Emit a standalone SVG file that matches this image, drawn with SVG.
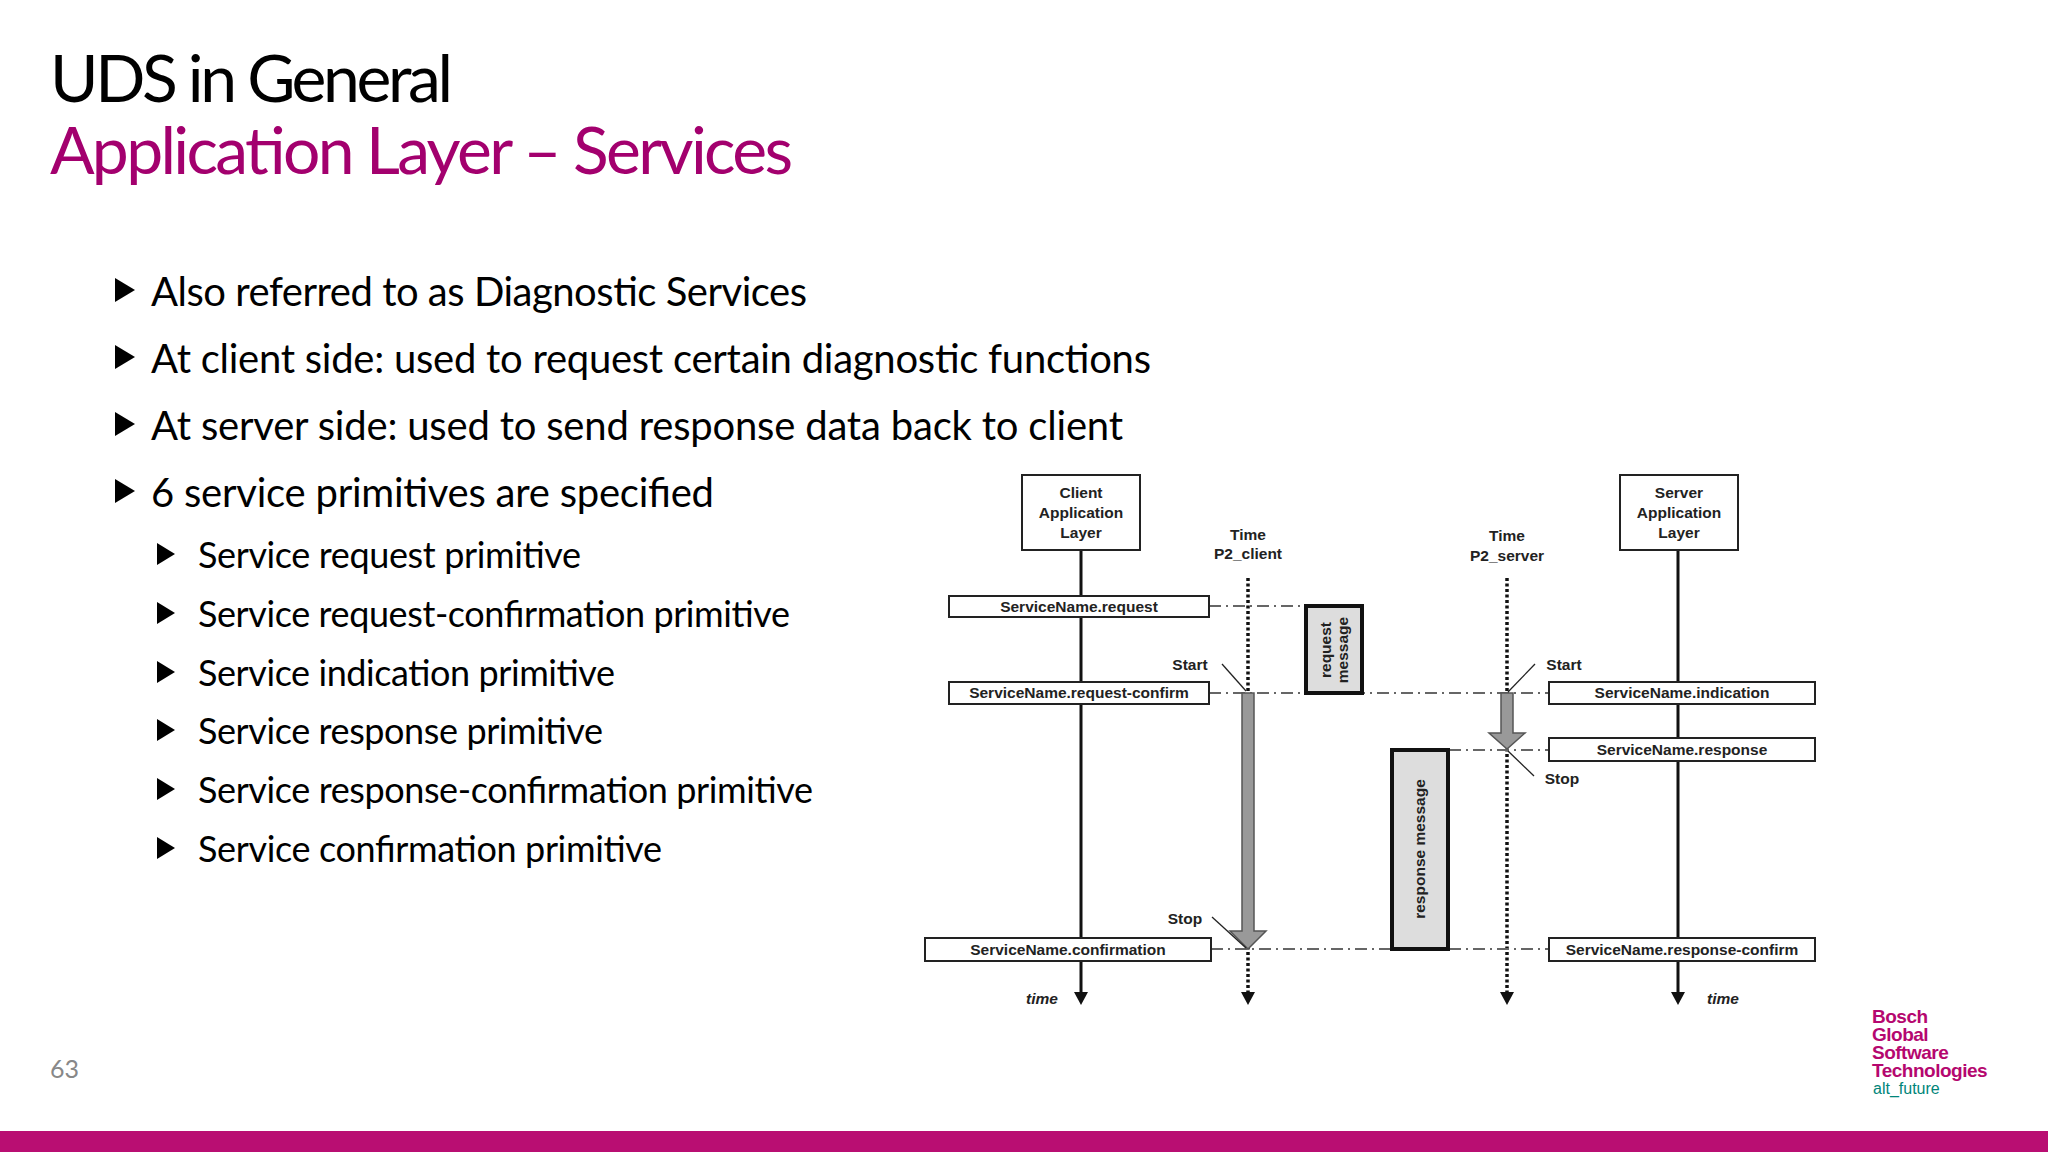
<svg xmlns="http://www.w3.org/2000/svg" width="2048" height="1152" viewBox="0 0 2048 1152">
<style>
.t1{font-family:Lato,"Open Sans",sans-serif;font-size:40px;fill:#000}
.t2{font-family:Lato,"Open Sans",sans-serif;font-size:36px;fill:#000}
.d{font-family:"Liberation Sans",Arial,sans-serif;font-weight:bold;font-size:15.5px;fill:#222;text-anchor:middle}
.box{fill:#fff;stroke:#222;stroke-width:2}
.life{stroke:#111;stroke-width:3;fill:none}
.dot{stroke:#111;stroke-width:3.5;stroke-dasharray:3 2.5;fill:none}
.dd{stroke:#666;stroke-width:1.8;stroke-dasharray:12 5 2 5;fill:none}
.thin{stroke:#222;stroke-width:1.3}
.msg{fill:#ddd;stroke:#111;stroke-width:4}
.garrow{fill:#999;stroke:#555;stroke-width:1.5}
.logo{font-family:"Liberation Sans",Arial,sans-serif;font-weight:bold;font-size:19px;fill:#b5076f;letter-spacing:-0.5px}
</style>
<defs>
<polygon id="tri1" points="0,0 20,12 0,24"/>
<polygon id="tri2" points="0,0 18,11 0,22"/>
</defs>
<rect width="2048" height="1152" fill="#fff"/>
<text x="50" y="102" font-family="Lato,'Open Sans',sans-serif" font-size="66" textLength="403" fill="#000">UDS in General</text>
<text x="50" y="174" font-family="Lato,'Open Sans',sans-serif" font-size="66" textLength="743" fill="#a3006e">Application Layer – Services</text>

<g id="bullets">
<use href="#tri1" x="115" y="278"/><text class="t1" x="151" y="306" textLength="656">Also referred to as Diagnostic Services</text>
<use href="#tri1" x="115" y="345"/><text class="t1" x="151" y="373" textLength="1000">At client side: used to request certain diagnostic functions</text>
<use href="#tri1" x="115" y="412"/><text class="t1" x="151" y="440" textLength="972">At server side: used to send response data back to client</text>
<use href="#tri1" x="115" y="479"/><text class="t1" x="151" y="507" textLength="563">6 service primitives are specified</text>
<use href="#tri2" x="157" y="543"/><text class="t2" x="198" y="568" textLength="383">Service request primitive</text>
<use href="#tri2" x="157" y="602"/><text class="t2" x="198" y="627" textLength="592">Service request-confirmation primitive</text>
<use href="#tri2" x="157" y="661"/><text class="t2" x="198" y="686" textLength="417">Service indication primitive</text>
<use href="#tri2" x="157" y="719"/><text class="t2" x="198" y="744" textLength="405">Service response primitive</text>
<use href="#tri2" x="157" y="778"/><text class="t2" x="198" y="803" textLength="615">Service response-confirmation primitive</text>
<use href="#tri2" x="157" y="837"/><text class="t2" x="198" y="862" textLength="464">Service confirmation primitive</text>
</g>

<g id="connectors">
<line class="life" x1="1081" y1="550" x2="1081" y2="994"/>
<polygon points="1074,992 1088,992 1081,1005" fill="#111"/>
<line class="life" x1="1678" y1="550" x2="1678" y2="994"/>
<polygon points="1671,992 1685,992 1678,1005" fill="#111"/>
<line class="dot" x1="1248" y1="578" x2="1248" y2="994"/>
<polygon points="1241,992 1255,992 1248,1005" fill="#111"/>
<line class="dot" x1="1507" y1="578" x2="1507" y2="994"/>
<polygon points="1500,992 1514,992 1507,1005" fill="#111"/>
<line class="dd" x1="1209" y1="606" x2="1305" y2="606"/>
<line class="dd" x1="1209" y1="693" x2="1549" y2="693"/>
<line class="dd" x1="1449" y1="750" x2="1549" y2="750"/>
<line class="dd" x1="1211" y1="949" x2="1391" y2="949"/>
<line class="dd" x1="1449" y1="949" x2="1549" y2="949"/>
<polygon class="garrow" points="1242,693 1254,693 1254,931 1266,931 1248,949 1230,931 1242,931"/>
<polygon class="garrow" points="1501,693 1513,693 1513,733 1525,733 1507,749 1489,733 1501,733"/>
<line class="thin" x1="1222" y1="664" x2="1246" y2="691"/>
<line class="thin" x1="1212" y1="917" x2="1246" y2="948"/>
<line class="thin" x1="1535" y1="664" x2="1508" y2="692"/>
<line class="thin" x1="1508" y1="751" x2="1534" y2="776"/>
</g>

<g id="client"><rect class="box" x="1022" y="475" width="118" height="75"/>
<text class="d" x="1081" y="498">Client</text><text class="d" x="1081" y="518">Application</text><text class="d" x="1081" y="538">Layer</text></g>
<g id="server"><rect class="box" x="1620" y="475" width="118" height="75"/>
<text class="d" x="1679" y="498">Server</text><text class="d" x="1679" y="518">Application</text><text class="d" x="1679" y="538">Layer</text></g>
<g id="p2client"><text class="d" x="1248" y="540">Time</text><text class="d" x="1248" y="559">P2_client</text></g>
<g id="p2server"><text class="d" x="1507" y="541">Time</text><text class="d" x="1507" y="561">P2_server</text></g>
<g id="req"><rect class="box" x="949" y="596" width="260" height="21"/><text class="d" x="1079" y="612">ServiceName.request</text></g>
<g id="reqconf"><rect class="box" x="949" y="682" width="260" height="22"/><text class="d" x="1079" y="698">ServiceName.request-confirm</text></g>
<g id="conf"><rect class="box" x="925" y="938" width="286" height="23"/><text class="d" x="1068" y="955">ServiceName.confirmation</text></g>
<g id="ind"><rect class="box" x="1549" y="682" width="266" height="22"/><text class="d" x="1682" y="698">ServiceName.indication</text></g>
<g id="resp"><rect class="box" x="1549" y="738" width="266" height="23"/><text class="d" x="1682" y="755">ServiceName.response</text></g>
<g id="respconf"><rect class="box" x="1549" y="938" width="266" height="23"/><text class="d" x="1682" y="955">ServiceName.response-confirm</text></g>
<g id="reqmsg"><rect class="msg" x="1306" y="606" width="56" height="87"/>
<text class="d" transform="translate(1334,650) rotate(-90)" y="-3">request</text><text class="d" transform="translate(1334,650) rotate(-90)" y="14">message</text></g>
<g id="respmsg"><rect class="msg" x="1392" y="750" width="56" height="199"/>
<text class="d" transform="translate(1420,849) rotate(-90)" y="5">response message</text></g>
<g id="labels">
<text class="d" x="1190" y="670">Start</text>
<text class="d" x="1185" y="924">Stop</text>
<text class="d" x="1564" y="670">Start</text>
<text class="d" x="1562" y="784">Stop</text>
<text class="d" x="1042" y="1004" font-style="italic">time</text>
<text class="d" x="1723" y="1004" font-style="italic">time</text>
</g>

<text x="50" y="1078" font-family="Lato,'Open Sans',sans-serif" font-size="25" fill="#888">63</text>
<g id="logo">
<text class="logo" x="1872" y="1023">Bosch</text>
<text class="logo" x="1872" y="1041">Global</text>
<text class="logo" x="1872" y="1059">Software</text>
<text class="logo" x="1872" y="1077">Technologies</text>
<text x="1873" y="1094" font-family="'Liberation Sans',Arial,sans-serif" font-size="16" fill="#00857a">alt_future</text>
</g>
<rect x="0" y="1131" width="2048" height="21" fill="#b90e72"/>
</svg>
